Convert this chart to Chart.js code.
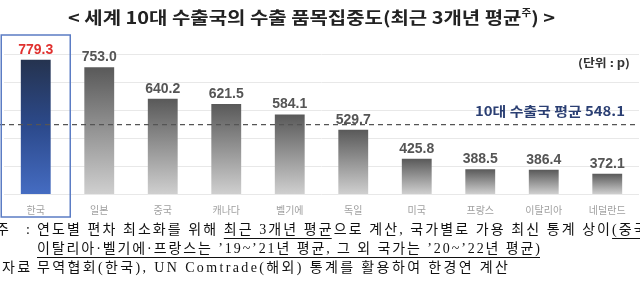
<!DOCTYPE html>
<html>
<head>
<meta charset="utf-8">
<script src="https://cdn.jsdelivr.net/npm/chart.js@4.4.1/dist/chart.umd.min.js"></script>
<style>
  html, body { margin: 0; padding: 0; background: #fff; }
  #wrap { position: relative; width: 640px; height: 282px; }
</style>
</head>
<body>
<div id="wrap"><canvas id="chart" width="640" height="282"></canvas></div>
<script>
// 데이터
const categories = ['한국', '일본', '중국', '캐나다', '벨기에', '독일', '미국', '프랑스', '이탈리아', '네덜란드'];
const values = [779.3, 753.0, 640.2, 621.5, 584.1, 529.7, 425.8, 388.5, 386.4, 372.1];
const average = 548.1;
const yMin = 300;
const yMax = 800;
const yStep = 100;

const sansKR = '"Noto Sans CJK KR", "Noto Sans", sans-serif';
const serifKR = '"Liberation Serif", "Noto Sans CJK KR", serif';

// 글자 간격을 맞춰서 한 글자씩 그리기
function drawSpaced(ctx, text, x, y, spacing) {
    for (const ch of text) {
        ctx.fillText(ch, x, y);
        x += ctx.measureText(ch).width + spacing;
    }
    return x;
}
function spacedWidth(ctx, text, spacing) {
    let w = 0;
    for (const ch of text) w += ctx.measureText(ch).width + spacing;
    return w;
}

// 목표 폭에 맞춘 간격 계산
function fitSpacing(ctx, text, width) {
    const n = [...text].length;
    return (width - spacedWidth(ctx, text, 0)) / (n - 1);
}

// 라인 하나 (밑줄 구간 포함)
function drawLine(ctx, segments, x, y, spacing) {
    for (const seg of segments) {
        const x0 = x;
        x = drawSpaced(ctx, seg.t, x, y, spacing);
        if (seg.u) {
            ctx.fillRect(x0, y + 8, x - x0 - spacing, 1);
        }
    }
    return x;
}

// 가로로 늘려서 폭 맞추기
function fitText(ctx, text, x, y, width) {
    const w = ctx.measureText(text).width;
    ctx.save();
    ctx.translate(x, y);
    ctx.scale(width / w, 1);
    ctx.fillText(text, 0, 0);
    ctx.restore();
}

const annotations = {
    id: 'annotations',
    afterDatasetsDraw(chart) {
        const ctx = chart.ctx;
        const xs = chart.scales.x;
        const ys = chart.scales.y;
        const area = chart.chartArea;
        const meta = chart.getDatasetMeta(0);

        ctx.save();

        // 평균선
        const yAvg = ys.getPixelForValue(average);
        ctx.strokeStyle = '#555';
        ctx.lineWidth = 1.3;
        ctx.setLineDash([5, 4]);
        ctx.beginPath();
        ctx.moveTo(area.left - 4, yAvg);
        ctx.lineTo(area.right - 4, yAvg);
        ctx.stroke();
        ctx.setLineDash([]);

        ctx.textAlign = 'left';
        ctx.textBaseline = 'middle';
        ctx.font = 'bold 13px ' + sansKR;
        ctx.fillStyle = '#2b3f73';
        fitText(ctx, '10대 수출국 평균 548.1', 475, yAvg - 13, 150);

        // 단위
        ctx.font = 'bold 11px ' + sansKR;
        ctx.fillStyle = '#333';
        fitText(ctx, '(단위 : p)', 578, 63, 52);

        // 값 라벨
        ctx.textAlign = 'center';
        ctx.font = 'bold 14px "Liberation Sans", Arial, sans-serif';
        meta.data.forEach((bar, i) => {
            ctx.fillStyle = i === 0 ? '#e0312f' : '#555';
            ctx.fillText(values[i].toFixed(1), bar.x, bar.y - 10);
        });

        // 한국 강조 박스
        const cx = xs.getPixelForValue(0);
        ctx.strokeStyle = '#5b7cc4';
        ctx.lineWidth = 1.5;
        ctx.strokeRect(cx - 34.5, 35, 69, 182);

        // 제목
        ctx.fillStyle = '#222';
        ctx.textAlign = 'left';
        ctx.textBaseline = 'middle';
        const t1 = '< 세계 10대 수출국의 수출 품목집중도(최근 3개년 평균';
        const t2 = ') >';
        ctx.font = 'bold 17px ' + sansKR;
        const w1 = ctx.measureText(t1).width;
        const w3 = ctx.measureText(t2).width;
        ctx.font = 'bold 9px ' + sansKR;
        const w2 = ctx.measureText('주').width;
        const total = w1 + w2 + w3;
        ctx.translate(68, 0);
        ctx.scale((555 - 68) / total, 1);
        ctx.font = 'bold 17px ' + sansKR;
        ctx.fillText(t1, 0, 18);
        ctx.font = 'bold 9px ' + sansKR;
        ctx.fillText('주', w1, 13);
        ctx.font = 'bold 17px ' + sansKR;
        ctx.fillText(t2, w1 + w2, 18);
        ctx.setTransform(1, 0, 0, 1, 0, 0);

        // 주석
        ctx.fillStyle = '#111';
        ctx.font = '14px ' + serifKR;
        const head1 = '연도별 편차 최소화를 위해 최근 3개년 평균으로 계산, 국가별로 가용 최신 통계 상이';
        const line1 = [
            { t: '연도별 편차 최소화를 위해 ' },
            { t: '최근 3개년 평균', u: true },
            { t: '으로 계산, 국가별로 가용 최신 통계 상이' },
            { t: '(중국·', u: true }
        ];
        const body2 = '이탈리아·벨기에·프랑스는 \u201919~\u201921년 평균, 그 외 국가는 \u201920~\u201922년 평균)';
        const body3 = '무역협회(한국), UN Comtrade(해외) 통계를 활용하여 한경연 계산';

        const sp1 = fitSpacing(ctx, head1, 610 - 37);
        const sp2 = fitSpacing(ctx, body2, 540 - 37);
        const sp3 = fitSpacing(ctx, body3, 508 - 37);

        drawSpaced(ctx, '주', -4, 230, 0);
        ctx.fillText(':', 26, 230);
        drawLine(ctx, line1, 37, 230, sp1);
        drawLine(ctx, [{ t: body2, u: true }], 37, 249, sp2);
        drawSpaced(ctx, '자료', 2, 268, sp3);
        ctx.fillText(':', 26, 268);
        drawLine(ctx, [{ t: body3 }], 37, 268, sp3);

        ctx.restore();
    }
};

function barFill(context) {
    const chart = context.chart;
    const area = chart.chartArea;
    if (!area) return '#888';
    const top = chart.scales.y.getPixelForValue(context.raw);
    const g = chart.ctx.createLinearGradient(0, top, 0, area.bottom);
    if (context.dataIndex === 0) {
        g.addColorStop(0, '#25334f');
        g.addColorStop(0.5, '#2c4a8c');
        g.addColorStop(1, '#456cc2');
    } else {
        g.addColorStop(0, '#595959');
        g.addColorStop(1, '#cfcfcf');
    }
    return g;
}

new Chart(document.getElementById('chart'), {
    type: 'bar',
    data: {
        labels: categories,
        datasets: [{
            data: values,
            backgroundColor: barFill,
            barPercentage: 0.94,
            categoryPercentage: 0.5
        }]
    },
    options: {
        responsive: false,
        animation: false,
        layout: { padding: { top: 54, left: 4, right: 1, bottom: 56 } },
        plugins: {
            legend: { display: false },
            tooltip: { enabled: false }
        },
        scales: {
            x: {
                grid: { display: false, drawTicks: false },
                border: { display: false },
                ticks: {
                    color: '#a0a0a0',
                    padding: 10,
                    font: { size: 10, family: sansKR }
                }
            },
            y: {
                min: yMin,
                max: yMax,
                grid: { color: '#e8e8e8', drawTicks: false },
                border: { display: false },
                ticks: { display: false, stepSize: yStep }
            }
        }
    },
    plugins: [annotations]
});
</script>
</body>
</html>
